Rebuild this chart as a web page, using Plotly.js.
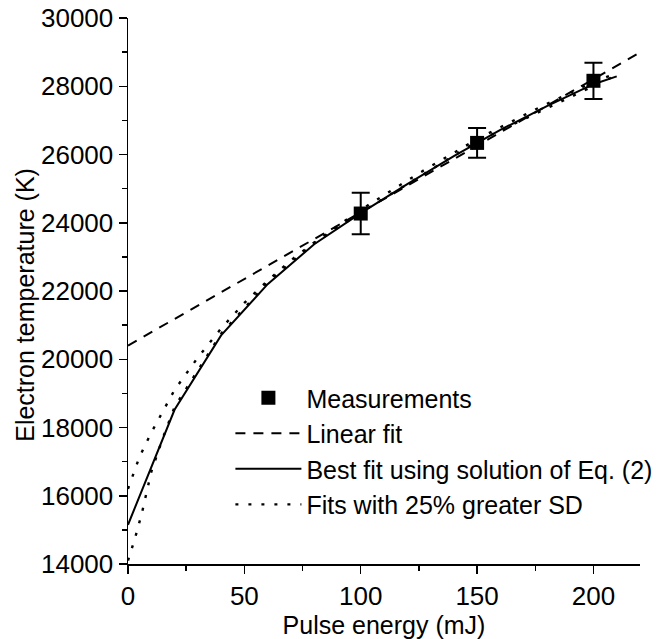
<!DOCTYPE html>
<html>
<head>
<meta charset="utf-8">
<script src="https://cdn.plot.ly/plotly-3.0.1.min.js"></script>
<style>html,body{margin:0;padding:0;background:#fff;}</style>
</head>
<body>
<div id="chart" style="width:672px;height:639px;"></div>
<script>
// Measurements
const measX = [100, 150, 200];
const measY = [24270, 26340, 28160];
const measErr = [610, 435, 530];

// Linear fit
const linX = [0, 220];
const linY = [20400, 28990];

// Best fit using solution of Eq. (2)
const bestX = [0, 10, 20, 40, 60, 80, 100, 120, 140, 160, 180, 200, 210];
const bestY = [15150, 16850, 18520, 20700, 22200, 23370, 24280, 25130, 25950, 26720, 27420, 28060, 28290];

// Fits with 25% greater SD (upper and lower)
const sdUpX = [0, 5, 10, 20, 30, 40, 50, 60, 70, 80, 90, 100, 125, 150, 175, 200, 210];
const sdUpY = [16200, 17150, 17850, 19100, 20050, 20900, 21650, 22300, 22900, 23420, 23900, 24380, 25450, 26450, 27320, 28130, 28380];
const sdLoX = [0, 3, 6, 10, 15, 20, 40, 60, 80, 100, 150, 210];
const sdLoY = [14100, 14750, 15500, 16700, 17700, 18600, 20750, 22250, 23400, 24300, 26380, 28330];

const xTitle = 'Pulse energy (mJ)';
const yTitle = 'Electron temperature (K)';

const FONT = 'Liberation Sans, Arial, Helvetica, sans-serif';

const traces = [
  {x: measX, y: measY, type: 'scatter', mode: 'markers', name: 'Measurements',
   marker: {symbol: 'square', size: 14, color: '#000'},
   error_y: {type: 'data', array: measErr, visible: true, color: '#000', thickness: 2, width: 9}},
  {x: linX, y: linY, type: 'scatter', mode: 'lines', name: 'Linear fit',
   line: {color: '#000', width: 2, dash: '10px,8px'}},
  {x: bestX, y: bestY, type: 'scatter', mode: 'lines', name: 'Best fit using solution of Eq. (2)',
   line: {color: '#000', width: 2}},
  {x: sdUpX, y: sdUpY, type: 'scatter', mode: 'lines', name: 'Fits with 25% greater SD',
   line: {color: '#000', width: 2.4, dash: '3px,10px'}},
  {x: sdLoX, y: sdLoY, type: 'scatter', mode: 'lines', name: 'Fits with 25% greater SD',
   showlegend: false,
   line: {color: '#000', width: 2.4, dash: '3px,10px'}}
];

const layout = {
  width: 672, height: 639,
  margin: {l: 128, r: 32, t: 18, b: 75},
  paper_bgcolor: '#fff', plot_bgcolor: '#fff',
  font: {family: FONT, size: 25, color: '#000'},
  showlegend: true,
  legend: {x: 0.2, y: 0.346, xanchor: 'left', yanchor: 'top', bgcolor: 'rgba(0,0,0,0)',
           font: {family: FONT, size: 25, color: '#000'}, itemwidth: 66, tracegroupgap: 0},
  xaxis: {
    range: [0, 220], showgrid: false, zeroline: false,
    showline: true, linecolor: '#000', linewidth: 1.5,
    ticks: 'outside', ticklen: 8, tickwidth: 1.5, tickcolor: '#000',
    tickvals: [0, 50, 100, 150, 200],
    minor: {ticks: 'outside', ticklen: 5, tickwidth: 1.5, tickcolor: '#000', dtick: 25, showgrid: false},
    tickfont: {family: FONT, size: 26},
    title: {text: xTitle, font: {family: FONT, size: 25}, standoff: 12}
  },
  yaxis: {
    range: [14000, 30000], showgrid: false, zeroline: false,
    showline: true, linecolor: '#000', linewidth: 1.5,
    ticks: 'outside', ticklen: 8, tickwidth: 1.5, tickcolor: '#000',
    dtick: 2000, tick0: 14000, tickformat: 'd',
    minor: {ticks: 'outside', ticklen: 5, tickwidth: 1.5, tickcolor: '#000', dtick: 1000, showgrid: false},
    tickfont: {family: FONT, size: 26}
  },
  annotations: [
    {text: yTitle, xref: 'paper', yref: 'paper', x: -0.2, y: 0.474, textangle: -90,
     showarrow: false, xanchor: 'center', yanchor: 'middle', font: {family: FONT, size: 25, color: '#000'}}
  ]
};

Plotly.newPlot('chart', traces, layout, {displayModeBar: false, staticPlot: true});
</script>
</body>
</html>
